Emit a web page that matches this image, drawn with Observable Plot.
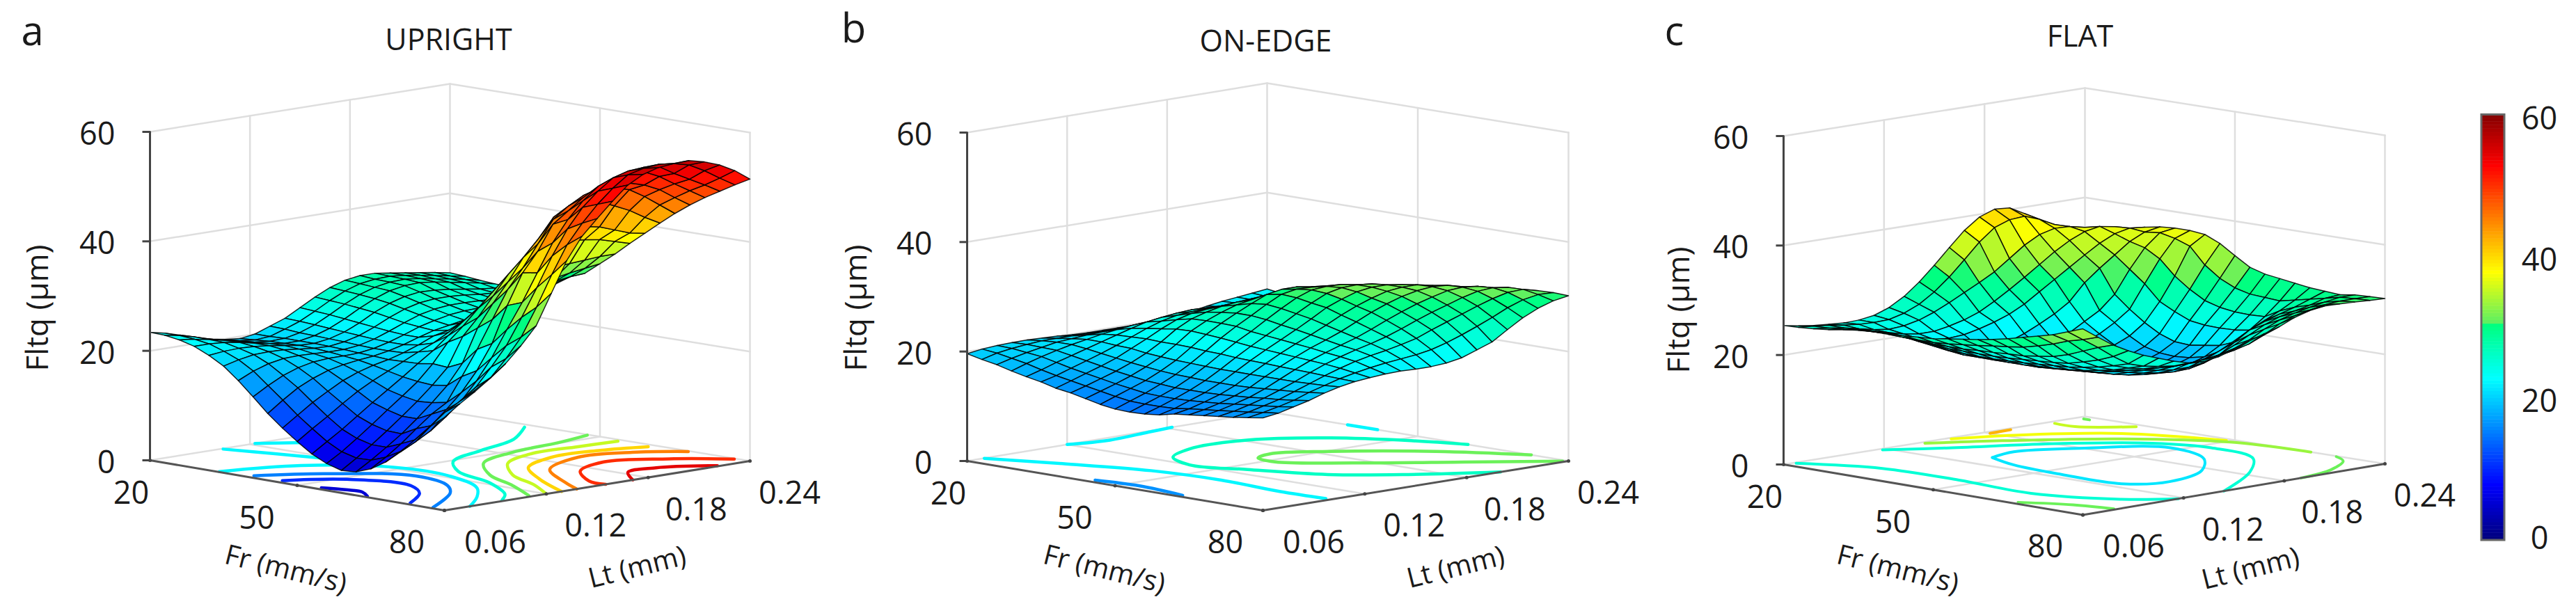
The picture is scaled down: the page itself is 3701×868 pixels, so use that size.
<!DOCTYPE html>
<html><head><meta charset="utf-8">
<script src="https://cdn.jsdelivr.net/npm/d3@7"></script>
<script src="https://cdn.jsdelivr.net/npm/@observablehq/plot@0.6"></script>
<style>html,body{margin:0;padding:0;background:#fff}</style>
</head><body><div id="chart"></div>
<script>
const frGrid=[20,23,26,29,32,35,38,41,44,47,50,53,56,59,62,65,68,71,74,77,80];
const ltGrid=[.06,.069,.078,.087,.096,.105,.114,.123,.132,.141,.15,.159,.168,.177,.186,.195,.204,.213,.222,.231,.24];
const frTicks=[20,50,80], ltTicks=[.06,.12,.18,.24], zTicks=[0,20,40,60];
const barTicks=[0,20,40,60];

// Fltq (um): one row per Fr value, one column per Lt value
const fltqUpright=[
[23.4,22.8,22,21,20.4,19.9,19.6,20,21,22,23.5,25,26.3,27.2,27.6,27.6,27.2,26.8,26.4,26,25.5],
[23.3,22.8,22.1,21.3,20.6,20.1,19.8,20,20.9,21.9,23.3,24.8,26.1,27,27.4,27.5,27.2,26.8,26.3,25.8,25.3],
[22.9,22.6,22.1,21.5,20.9,20.3,20,20.1,20.7,21.7,23.1,24.6,25.9,26.8,27.3,27.4,27.1,26.6,26.1,25.6,25],
[22.2,22.2,22,21.6,21,20.5,20.1,20.1,20.6,21.5,22.8,24.3,25.6,26.6,27.1,27.2,26.9,26.4,25.9,25.4,24.8],
[21,21.3,21.4,21.3,21,20.6,20.2,20.1,20.5,21.3,22.5,24,25.2,26,26.4,26.3,26,25.6,25.2,24.9,24.7],
[19.5,20.2,20.7,20.8,20.7,20.4,20.1,20,20.4,21.1,22.2,23.5,24.6,25.3,25.6,25.6,25.4,25.1,24.9,24.8,24.8],
[17.3,18.6,19.5,20,20.1,20,19.9,19.9,20.2,20.9,21.9,23,24,24.6,24.9,24.9,24.8,24.7,24.7,24.9,25.3],
[14.8,16.4,17.8,18.8,19.4,19.6,19.6,19.7,20.1,20.8,21.7,22.7,23.4,24,24.3,24.4,24.5,24.7,25.2,25.8,26.5],
[12.2,14.2,16,17.3,18.3,18.9,19.3,19.6,20.1,20.8,21.7,22.5,23,23.5,23.9,24.3,25,26,26.9,27.6,28.3],
[10,11.9,13.8,15.4,16.9,18,18.8,19.4,20.2,21.2,22.4,23,24,24.8,25.8,26.8,27.5,28.2,28.8,29.2,29.4],
[8,9.9,11.7,13.6,15.4,16.9,18.2,19.5,20.8,22,23.5,25.2,26.6,27.8,28.6,29.2,29.8,30.3,30.8,31.2,31.6],
[6.2,8,9.8,11.8,13.8,15.7,17.6,19.6,21.5,23.8,26,28,30,31.4,32.3,32.8,33.2,33.4,33.6,33.8,33.8],
[4.9,6.6,8.6,10.7,12.9,15,17.2,20,23.5,26,28.8,31.5,34,36.5,38,38.5,38.5,38.2,37.8,37,36.2],
[4.1,5.9,7.9,10,12.2,14.5,17,19.8,25,28,31.5,35,37.5,39.5,41,41.5,41.5,41,40,39,38.5],
[4.3,6,7.9,9.9,12.2,14.7,17.4,21,27,31,34.5,38.5,41.5,45,46.2,46.5,46.5,45.3,44,42.3,40.8],
[5.3,7,9,11.3,13.5,15.2,19.5,24,29,34,37.5,41.5,45.5,47.5,49,49.7,49.5,48.7,47,45,43],
[7,8.5,10.2,12.3,14.8,17.5,21,25.5,32,37.5,41,45.5,47.5,49.5,50.7,51.2,50.8,50,48.7,46.8,45],
[9.3,10.7,12.3,14.4,16.8,20,23.8,28.5,33,38,43,46.8,49.8,52,53,53.5,53.3,52,50.2,48.5,46.8],
[12,14,15.8,17.8,19.8,23,26.5,31.2,36.2,41.5,46,49.5,52,54,54.8,55,54.7,53,51.5,50,48.4],
[14.8,17,18.6,20.2,22,25,28.5,33.5,39,44,47.5,50.5,53,55,55.7,56,55.7,55,53.5,51.7,50],
[17,19,20.8,22.8,25,27.8,31,36.5,42,46,48.8,51.5,54,55.5,56.3,56.6,56.7,56,55,53.5,51.5]];
const fltqOnEdge=[
[19.6,20,20.2,20.3,20.3,20.2,20.1,19.9,19.8,19.8,19.8,19.8,19.8,19.8,20.1,20.6,21.1,21.5,21.8,22.1,22.4],
[19,19.7,20.1,20.4,20.6,20.6,20.6,20.5,20.5,20.5,20.5,20.5,20.5,20.6,20.8,21.1,21.4,21.6,21.8,21.9,22],
[18.5,19.2,19.8,20.3,20.8,21,21.2,21.3,21.3,21.4,21.5,21.5,21.5,21.6,21.7,21.8,21.8,21.7,21.6,21.6,21.5],
[17.8,18.7,19.5,20.2,20.8,21.3,21.8,22.2,22.5,22.7,22.9,23,23,23,22.9,22.8,22.5,22.1,21.6,21.2,21],
[17.2,18,18.9,19.7,20.5,21.3,22.1,22.9,23.6,24,24.3,24.5,24.4,24.3,24.1,23.7,23.1,22.3,21.5,20.9,20.5],
[16.7,17.4,18.3,19.2,20.1,21.1,22.2,23.3,24.2,24.8,25,25.1,25.1,25,24.9,24.6,23.8,22.9,21.8,20.9,20.2],
[16,16.9,17.8,18.7,19.7,21,22.3,23.7,24.9,25.6,25.9,26.1,26.2,26.2,26,25.5,24.6,23.5,22.2,20.8,19.8],
[15.6,16.4,17.3,18.2,19.3,20.6,22.2,24.1,25.5,26.3,26.9,27.2,27.4,27.4,27.1,26.5,25.5,24.2,22.6,21,19.8],
[15,15.9,16.8,17.8,19,20.4,22.2,24.2,25.6,26.7,27.6,28.1,28.5,28.5,28.3,27.7,26.8,25.6,23.9,22,20.5],
[14.4,15.4,16.4,17.4,18.7,20.2,22.1,24,25.6,27,28.3,29.5,30,30,29.6,29,28,26.8,25.2,23.2,21.5],
[14,15,16,17.2,18.5,20.1,21.9,23.8,25.5,27,28.6,30,30.5,30.4,30.2,29.7,28.9,27.8,26.2,24.4,22.6],
[13.9,14.9,15.9,17,18.4,20,21.8,23.5,25,26.7,28.3,29.8,30.8,31,30.9,30.4,29.7,28.6,27.2,25.4,23.4],
[14,14.9,15.9,17,18.3,19.9,21.6,23.2,24.7,26.2,27.8,29.3,30.6,31.2,31.3,31,30.3,29.3,28,26.5,24.4],
[14.3,15,16,17,18.3,19.9,21.5,23,24.4,25.8,27.3,28.9,30,30.9,31.3,31.3,30.9,30,28.9,27.5,24.8],
[14.9,15.4,16.2,17.1,18.3,19.9,21.4,22.8,24.1,25.3,26.6,28,29.2,30.2,31,31.3,31.3,30.7,29.8,28.6,26.2],
[15.2,15.7,16.4,17.3,18.4,19.9,21.3,22.6,23.8,24.8,25.9,27.2,28.5,29.6,30.5,31.1,31.4,31.2,30.5,29.6,27.6],
[15.5,16,16.7,17.5,18.6,19.9,21.2,22.4,23.4,24.3,25.2,26.3,27.5,28.6,29.6,30.4,31.1,31.3,31,30.3,28.5],
[15.8,16.3,17,17.8,18.8,19.9,21.1,22.2,23.1,23.9,24.6,25.4,26.4,27.5,28.5,29.4,30.3,31,31.2,30.8,29.6],
[16.1,16.6,17.3,18,19,20,21,21.9,22.7,23.3,23.8,24.4,25.1,26.2,27.2,28.2,29.2,30.1,30.8,30.9,30.2],
[16.5,17,17.6,18.3,19.3,20.1,20.9,21.5,22,22.4,22.7,23,23.5,24.3,25.3,26.4,27.6,28.9,29.9,30.4,30.3],
[16.9,17.3,18,18.7,19.6,20.3,20.8,21.1,21.3,21.4,21.3,21.3,21.5,22,23,24,25.8,27.5,28.8,29.7,30.2]];
const fltqFlat=[
[25.4,24.9,24.5,24.3,24.1,24.2,24.6,25.6,27.2,29.4,32,34.8,37.5,39.5,40.5,40.3,38.8,36.8,34.8,32.5,30],
[25.5,25.3,25,24.6,24.3,24.2,24.3,25,26.2,28,30.3,33,35.8,38,39,39.2,38.2,36.8,35.3,33.7,32],
[25.7,25.4,25,24.4,23.8,23.4,23.6,24.2,25.2,26.5,27.9,29.3,30.8,32.8,34.8,36.3,37,36.9,36.3,35.2,34],
[26,25.6,25.1,24.4,23.7,23,22.6,22.6,23.1,23.8,24.8,26.3,28,29.8,31.7,33.6,35.2,36.4,36.9,36.4,35.2],
[26.5,26,25.2,24.4,23.5,22.6,22,21.8,22,22.6,23.4,24.4,25.8,27.6,29.4,31.2,33,34.7,36,36.6,36.3],
[26.8,26.2,25.3,24.3,23,21.9,21,20.5,20.2,20.1,20.3,21.3,22.6,24,25.8,28.8,31,33,35,36.3,36.8],
[27,26.2,25.2,24,22.6,21.3,20.6,20.2,19.9,19.5,19.3,19.4,19.9,21,22.6,24.2,26.7,30.8,34.3,36.6,37],
[27,26,25,23.7,22.3,21,20.4,20,19.5,18.9,18.5,18.6,18.9,19.7,20.8,22.4,24.4,28.6,32.7,36,37],
[27.2,26,24.8,23.5,22.2,21,20.3,19.9,19.1,18.4,18,17.9,18,18.4,19.2,20.4,22.4,25.8,30,35,36.7],
[27.4,26,24.8,23.5,22.1,21,20.2,19.6,18.8,18.1,17.7,17.4,17.3,17.4,17.8,18.9,20.8,24.4,28,32,35.5],
[27.6,26.2,24.8,23.5,22.1,21,20.2,19.4,18.7,18,17.5,17.1,16.8,16.8,17.2,18.2,19.8,23.2,26.4,30,33.7],
[28,26.5,25,23.5,22.2,21,20.1,19.5,18.8,18,17.4,17,16.8,16.7,17,18,19.6,22.8,25.6,28.7,32],
[28.4,26.8,25.1,23.6,22.3,21.2,20.3,19.7,19,18.2,17.6,17.1,16.9,16.9,17.3,18.2,20,22.7,25.2,28,31.2],
[28.8,27.2,25.3,23.8,22.5,21.3,20.5,19.9,19.2,18.5,17.9,17.5,17.4,17.5,17.9,18.8,20.4,22.8,25.1,27.8,30.8],
[29.3,27.5,25.4,24,22.7,21.5,20.7,20,19.4,18.9,18.5,18.3,18.4,18.8,19.3,20.2,21.5,23.2,25.2,27.6,30.4],
[29.9,27.9,25.8,24.2,22.9,21.8,21,20.2,19.6,19.2,19,19,19.3,20,21.2,22.6,24.1,25.4,26.7,28.2,30],
[30.6,28.6,26.2,24.5,23.3,22.3,21.6,21,20.4,20,19.7,19.8,20.4,21.4,23.2,25,26.1,27,27.8,28.8,29.8],
[31.3,29.4,27,25.2,23.8,22.8,22.3,21.8,21.4,21,21,21.4,22.3,23.6,25,26.4,27.4,28,28.6,29.4,29.6],
[32,30.4,28.1,26,24.5,23.6,23,22.7,22.5,22.6,22.8,23.2,23.9,25,26.5,27.7,28.5,29.1,29.6,30,30],
[33,31.1,29.2,27.1,25.3,24.4,23.9,23.5,23.5,23.7,24,24.5,25.2,26.4,27.9,28.9,29.5,30,30.2,30.2,30.1],
[34,32,30.1,28.6,27.3,26.3,25.3,24.5,24.3,24.7,25.6,26.6,27.5,28.3,29.5,30.3,30.7,30.6,30.5,30.3,30.2]];

// floor contours: [colour value, Fr values, Lt values]
const contoursUpright=[
[22,[20.3,28,37],[.103,.11,.118]],
[22,[20,24.4],[.123,.14]],
[22,[33.8,38.1,48.3,59.5,69.4,74.9,80],[.061,.097,.122,.123,.11,.094,.075]],
[15,[39.8,45.5,56,65.2,69.8,77],[.064,.089,.113,.105,.093,.062]],
[10,[45.6,51.2,61.5,67,72],[.064,.086,.094,.083,.063]],
[5,[53.9,57.5,60.5,63.6],[.063,.067,.068,.062]],
[25,[36.6,42.9,46.7,50.9,57.4,67.5,76.1,79.3],[.235,.21,.179,.15,.134,.123,.107,.096]],
[31,[47.8,49.6,51,55,62.8,70.8,79.2],[.239,.216,.185,.156,.137,.126,.112]],
[35,[54.6,54,53.8,57.5,65,73,80],[.237,.215,.187,.163,.144,.133,.12]],
[40,[61,58.5,57.9,62,70,80],[.236,.215,.188,.162,.145,.129]],
[45,[68,62.9,60.5,65.3,75,80],[.239,.221,.196,.165,.146,.138]],
[50,[77.2,70.6,66,69.4,76.3,80],[.239,.22,.195,.171,.156,.155]],
[54,[79.6,74.8,74.9,80],[.222,.2,.183,.171]]];
const contoursOnEdge=[
[22,[20,21.6,20.6,20],[.12,.141,.167,.183]],
[22,[36,42],[.24,.24]],
[22,[20.1,31.2,44.4,57.2,70,79],[.07,.084,.098,.102,.099,.1]],
[16,[44.6,52.6,62.7],[.064,.067,.063]],
[26,[60,52,42.3,35.4,34.9,38.3,44.7,53.3,64.4,72.4,80],[.24,.23,.211,.183,.149,.129,.12,.129,.144,.168,.2]],
[31,[72.6,61,50.4,46,47.3,51.4,60,70.3,79.5],[.24,.218,.186,.164,.153,.151,.173,.207,.238]]];
const contoursFlat=[
[31,[21.4,22.6],[.235,.235]],
[35,[21.3,25.4,31.6],[.218,.218,.236]],
[42,[21.1,20.9],[.18,.193]],
[37,[20.7,24.7,34.3,49.3],[.158,.184,.219,.237]],
[33,[20.8,26.9,37.7,50.7,65.2],[.142,.17,.209,.235,.24]],
[31,[70.6,74,78,80],[.239,.233,.214,.19]],
[25,[20.7,25.5,34.7,43.5,52.3,63.4,71.1,80],[.117,.138,.183,.21,.219,.211,.186,.144]],
[21,[36.3,34.9,39.8,48.2,58.6,65.2,68.8,65.2,53.5,43,36.3],[.136,.153,.181,.207,.196,.175,.145,.127,.126,.129,.136]],
[25,[20.5,32.1,46.8,61.9,74.4,80],[.066,.083,.085,.083,.099,.117]],
[31,[66,73,79.5],[.063,.075,.08]]];

// colour bar
const barLevels=d3.range(0,60,0.5);
const colorDomain=[0,7.5,15,22.5,30,30.5,37.5,45,52.5,60];
const colorRange=["#00007f","#0000ff","#0080ff","#00ffff","#00ff80","#60f060","#ffff00","#ff8000","#ff0000","#7f0000"];

// layout
const font="'Open Sans'";
const zPx=472/60;
const frLabelOffset=[[-27,48],[-58,48],[-54,47]];
const ltLabelOffset=[[73,47],[71,47],[69,47],[57,47]];
const panels=[
 {L:[215,661],F:[638,733],R:[1077,662],B:[646,592],h:fltqUpright,c:contoursUpright,cw:4.5,title:"UPRIGHT",letter:"a",tp:[644,58],lp:[46,46],yl:[54,442],fl:[410,818],ll:[915,815]},
 {L:[1389,662],F:[1814,733],R:[2253,662],B:[1820,591],h:fltqOnEdge,c:contoursOnEdge,cw:4.5,title:"ON-EDGE",letter:"b",tp:[1818,60],lp:[1226,42],yl:[1230,442],fl:[1586,818],ll:[2091,815]},
 {L:[2562,667],F:[2992,739.5],R:[3426,666],B:[2995,598],h:fltqFlat,c:contoursFlat,cw:4,title:"FLAT",letter:"c",tp:[2988,53],lp:[2405,46],yl:[2412,445],fl:[2726,818],ll:[3233,817]}
];
function projector(p){
  return (fr,lt,z)=>{
    const u=(fr-20)/60,v=(lt-.06)/.18;
    const w=[(1-u)*(1-v),u*(1-v),u*v,(1-u)*v];
    const c=[p.L,p.F,p.R,p.B];
    return [d3.sum(c,(q,k)=>q[0]*w[k]),d3.sum(c,(q,k)=>q[1]*w[k])-z*zPx];
  };
}
function panelMarks(p,pi){
  const P=projector(p), marks=[];
  const grid=[];
  const seg=(pts)=>{const id=grid.length?grid[grid.length-1].id+1:0;pts.forEach(q=>{const [x,y]=P(...q);grid.push({id,x,y});});};
  for(const z of [0,20,40,60]) seg([[20,.06,z],[20,.24,z],[80,.24,z]]);
  for(const q of [[20,.12],[20,.18],[20,.24],[50,.24],[80,.24]]) seg([[...q,0],[...q,60]]);
  seg([[50,.06,0],[50,.24,0]]); seg([[20,.12,0],[80,.12,0]]); seg([[20,.18,0],[80,.18,0]]);
  marks.push(Plot.line(grid,{x:"x",y:"y",z:"id",stroke:"#dedede",strokeWidth:2.5}));
  const cont=[];
  p.c.forEach((c,id)=>c[1].forEach((fr,k)=>{const [x,y]=P(fr,c[2][k],0);cont.push({id,x,y,level:c[0]});}));
  marks.push(Plot.line(cont,{x:"x",y:"y",z:"id",stroke:"level",strokeWidth:p.cw,curve:"catmull-rom"}));
  const edge=[[20,.06],[80,.06],[80,.24]].map(q=>{const [x,y]=P(q[0],q[1],0);return {x,y};});
  marks.push(Plot.line(edge,{x:"x",y:"y",stroke:"#555",strokeWidth:3}));
  const cells=[];
  for(let i=0;i<frGrid.length-1;i++)for(let j=0;j<ltGrid.length-1;j++)cells.push([i,j]);
  cells.sort((a,b)=>(a[0]-a[1])-(b[0]-b[1]));
  const quad=[];
  cells.forEach(([i,j],id)=>{
    const corners=[[i,j],[i+1,j],[i+1,j+1],[i,j+1],[i,j]];
    const val=d3.mean(corners.slice(0,4),c=>p.h[c[0]][c[1]]);
    corners.forEach(c=>{const [x,y]=P(frGrid[c[0]],ltGrid[c[1]],p.h[c[0]][c[1]]);quad.push({id,x,y,val});});
  });
  marks.push(Plot.line(quad,{x:"x",y:"y",z:"id",fill:"val",stroke:"#000",strokeWidth:1.5,strokeOpacity:.85}));
  const axis=[0,60].map(z=>{const [x,y]=P(20,.06,z);return {x,y};});
  marks.push(Plot.line(axis,{x:"x",y:"y",stroke:"#444",strokeWidth:3}));
  marks.push(Plot.link(zTicks,{x1:z=>P(20,.06,z)[0]-11,x2:z=>P(20,.06,z)[0],y1:z=>P(20,.06,z)[1],y2:z=>P(20,.06,z)[1],stroke:"#444",strokeWidth:3}));
  const tickDots=[...frTicks.map(f=>P(f,.06,0)),...ltTicks.map(l=>P(80,l,0))];
  marks.push(Plot.dot(tickDots,{x:d=>d[0],y:d=>d[1],r:2.5,fill:"#444"}));
  const ts={fontFamily:font,fontSize:45,fill:"#1a1a1a"};
  marks.push(Plot.text(zTicks,{x:z=>P(20,.06,z)[0]-50,y:z=>P(20,.06,z)[1]+4,text:z=>String(z),textAnchor:"end",...ts}));
  marks.push(Plot.text(frTicks,{x:(f,k)=>P(f,.06,0)[0]+frLabelOffset[k][0],y:(f,k)=>P(f,.06,0)[1]+frLabelOffset[k][1],text:f=>String(f),...ts}));
  marks.push(Plot.text(ltTicks,{x:(l,k)=>P(80,l,0)[0]+ltLabelOffset[k][0],y:(l,k)=>P(80,l,0)[1]+ltLabelOffset[k][1],text:l=>l.toFixed(2),...ts}));
  marks.push(Plot.text([p.title],{x:()=>p.tp[0],y:()=>p.tp[1],text:d=>d,fontFamily:font,fontSize:43,fill:"#1a1a1a"}));
  marks.push(Plot.text([p.letter],{x:()=>p.lp[0],y:()=>p.lp[1],text:d=>d,fontFamily:font,fontSize:58,fill:"#1a1a1a"}));
  marks.push(Plot.text(["Fltq (\u03bcm)"],{x:()=>p.yl[0],y:()=>p.yl[1],text:d=>d,rotate:-90,fontFamily:font,fontSize:44,fill:"#1a1a1a"}));
  marks.push(Plot.text(["Fr (mm/s)"],{x:()=>p.fl[0],y:()=>p.fl[1],text:d=>d,rotate:14,fontFamily:font,fontSize:40,fill:"#1a1a1a"}));
  marks.push(Plot.text(["Lt (mm)"],{x:()=>p.ll[0],y:()=>p.ll[1],text:d=>d,rotate:-14,fontFamily:font,fontSize:40,fill:"#1a1a1a"}));
  return marks;
}
const barY=d3.scaleLinear([0,60],[776,164.5]);
const barMarks=[
  Plot.rect(barLevels,{x1:()=>3565,x2:()=>3598,y1:l=>barY(l),y2:l=>barY(l+.5)-.5,fill:l=>l}),
  Plot.rect([0],{x1:()=>3565,x2:()=>3598,y1:()=>barY(0),y2:()=>barY(60),fill:"none",stroke:"#666",strokeWidth:3}),
  Plot.text(barTicks,{x:()=>3648,y:l=>[774,577,374,171][barTicks.indexOf(l)],text:l=>String(l),fontFamily:font,fontSize:45,fill:"#1a1a1a"})
];
const chart=Plot.plot({
  width:3701,height:868,margin:0,
  x:{domain:[0,3701],range:[0,3701],axis:null},
  y:{domain:[0,868],range:[0,868],axis:null},
  color:{type:"linear",domain:colorDomain,range:colorRange,interpolate:"rgb",clamp:true},
  style:{background:"#fff",maxWidth:"none"},
  marks:[...panels.flatMap(panelMarks),...barMarks]
});
document.getElementById("chart").append(chart);
</script></body></html>
